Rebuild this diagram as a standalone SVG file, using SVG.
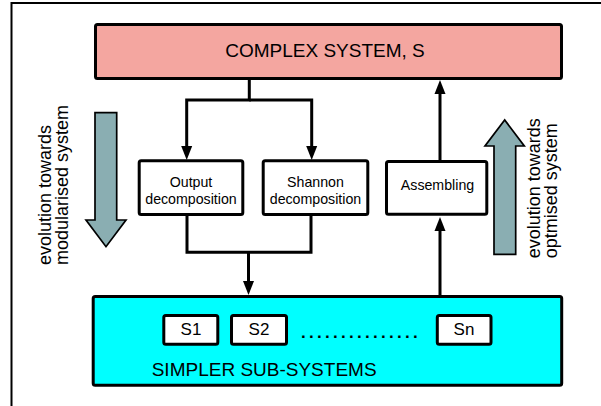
<svg xmlns="http://www.w3.org/2000/svg" width="601" height="406" viewBox="0 0 601 406">
  <style>
    text { font-family: "Liberation Sans", Arial, sans-serif; fill: #000; }
    .box { stroke: #000; stroke-width: 3; stroke-linejoin: round; }
    .white { fill: #fff; }
    .title { font-size: 19px; }
    .label { font-size: 14.2px; text-anchor: middle; }
    .sub { font-size: 17px; text-anchor: middle; }
    .side { font-size: 18px; }
    .wire { fill: none; stroke: #000; stroke-width: 3; stroke-linejoin: miter; }
    .fat { fill: #8aaeb2; stroke: #000; stroke-width: 1.7; stroke-linejoin: miter; }
  </style>
  <defs>
    <marker id="head" markerUnits="userSpaceOnUse" markerWidth="14" markerHeight="12" refX="0" refY="6" orient="auto" viewBox="0 0 14 12" overflow="visible">
      <path d="M-1,0.5 L13,6 L-1,11.5 Z" fill="#000"/>
    </marker>
  </defs>

  <!-- frame -->
  <rect x="11.5" y="3" width="620" height="430" fill="none" stroke="#000" stroke-width="2"/>

  <g id="complex-system">
    <rect class="box" x="95.5" y="24.5" width="466" height="54" rx="2" fill="#f4a6a0"/>
    <text class="title" x="325" y="57" text-anchor="middle">COMPLEX SYSTEM, S</text>
  </g>

  <g id="output-decomposition">
    <rect class="box white" x="139.2" y="160.8" width="103.6" height="53.7" rx="2"/>
    <text class="label" x="191" y="187.3">Output</text>
    <text class="label" x="191" y="203.6">decomposition</text>
  </g>

  <g id="shannon-decomposition">
    <rect class="box white" x="263.2" y="160.8" width="104.6" height="53.7" rx="2"/>
    <text class="label" x="315.5" y="187.3">Shannon</text>
    <text class="label" x="315.5" y="203.6">decomposition</text>
  </g>

  <g id="assembling">
    <rect class="box white" x="386.5" y="161.5" width="100.3" height="52.7" rx="2"/>
    <text class="label" x="437.5" y="190" font-size="15">Assembling</text>
  </g>

  <g id="simpler-sub-systems">
    <rect class="box" x="93.2" y="296.5" width="468.5" height="88.7" rx="2" fill="#00ffff"/>
    <text x="151.7" y="376" class="title">SIMPLER SUB-SYSTEMS</text>
  </g>

  <g id="s1">
    <rect class="box white" x="163.8" y="315.5" width="54" height="28.7" rx="2"/>
    <text class="sub" x="191" y="335">S1</text>
  </g>
  <g id="s2">
    <rect class="box white" x="231.5" y="315.5" width="55" height="28.7" rx="2"/>
    <text class="sub" x="259" y="335">S2</text>
  </g>
  <text x="301" y="338" font-size="17" font-weight="bold" letter-spacing="3.27">...............</text>
  <g id="sn">
    <rect class="box white" x="437.3" y="315.5" width="53.7" height="28.7" rx="2"/>
    <text class="sub" x="464" y="335">Sn</text>
  </g>

  <g id="trend-down">
    <polygon class="fat" points="95,112.7 116.7,112.7 116.7,220 126,220 106,246.7 86,220 95,220"/>
    <text class="side" transform="translate(50.5,265) rotate(-90)">evolution towards</text>
    <text class="side" transform="translate(67.5,265) rotate(-90)">modularised system</text>
  </g>

  <g id="trend-up">
    <polygon class="fat" points="494,254.3 515.7,254.3 515.7,146 524.3,146 504.7,120 485,146 494,146"/>
    <text class="side" transform="translate(540,258.3) rotate(-90)">evolution towards</text>
    <text class="side" transform="translate(557,258.3) rotate(-90)">optmised system</text>
  </g>

  <g id="connectors">
    <path class="wire" d="M249.3,79 V100 H186.7 V147" marker-end="url(#head)"/>
    <path class="wire" d="M249.3,100 H311.7 V147" marker-end="url(#head)"/>
    <path class="wire" d="M187,215 V252.3 H311 V215"/>
    <path class="wire" d="M248.5,252.3 V282" marker-end="url(#head)"/>
    <path class="wire" d="M440,295 V230" marker-end="url(#head)"/>
    <path class="wire" d="M440,160 V93" marker-end="url(#head)"/>
  </g>
</svg>
